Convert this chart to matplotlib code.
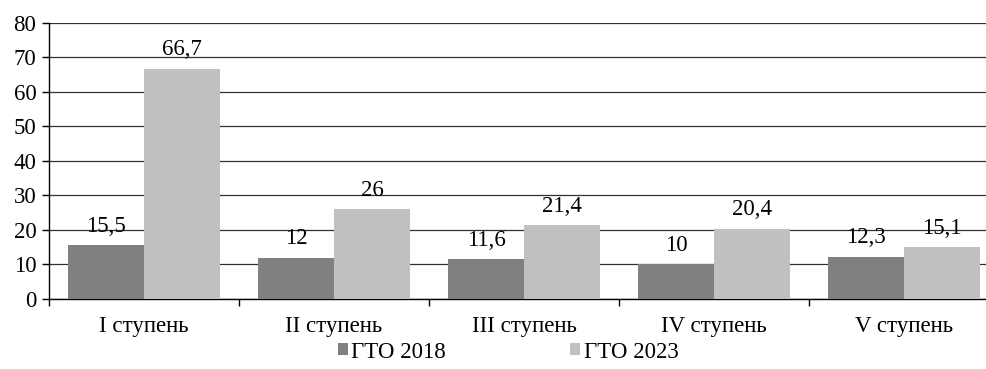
import matplotlib
matplotlib.use("Agg")
import matplotlib.pyplot as plt
import numpy as np

categories = ["I ступень", "II ступень", "III ступень", "IV ступень", "V ступень"]
gto_2018 = [15.5, 12, 11.6, 10, 12.3]
gto_2023 = [66.7, 26, 21.4, 20.4, 15.1]
labels_2018 = ["15,5", "12", "11,6", "10", "12,3"]
labels_2023 = ["66,7", "26", "21,4", "20,4", "15,1"]
series_names = ["ГТО 2018", "ГТО 2023"]

plt.rcParams["font.family"] = ["Liberation Serif", "DejaVu Serif"]
FS = 16.5
plt.rcParams["font.size"] = FS

W, H = 987, 369
fig = plt.figure(figsize=(W / 100, H / 100), dpi=100)
# axes spans from x=49 to x=999 px (right edge runs past the canvas)
left, right = 49, 999
bottom, top = 299, 22.7
ax = fig.add_axes([left / W, 1 - bottom / H, (right - left) / W, (bottom - top) / H])

x = np.arange(len(categories))
bw = 0.4
ax.bar(x - bw / 2, gto_2018, width=bw, color="#808080", label=series_names[0], zorder=3)
ax.bar(x + bw / 2, gto_2023, width=bw, color="#c0c0c0", label=series_names[1], zorder=3)

for xi, v, t in zip(x - bw / 2, gto_2018, labels_2018):
    ax.annotate(t, (xi, v), xytext=(0, 6), textcoords="offset points",
                ha="center", va="bottom", zorder=4)
for xi, v, t in zip(x + bw / 2, gto_2023, labels_2023):
    ax.annotate(t, (xi, v), xytext=(0, 6), textcoords="offset points",
                ha="center", va="bottom", zorder=4)

ax.set_xlim(-0.5, len(categories) - 0.5)
ax.set_ylim(0, 80)
ax.set_yticks(range(0, 81, 10))
ax.yaxis.grid(True, color="#303030", linewidth=0.9, zorder=0)
ax.set_axisbelow(True)

ax.set_xticks(x)
ax.set_xticklabels(categories)
ax.set_xticks(np.arange(-0.5, len(categories) + 0.5, 1), minor=True)
ax.tick_params(axis="x", which="major", length=0, pad=12)
ax.tick_params(axis="x", which="minor", length=5, width=1, color="black", direction="out")
ax.tick_params(axis="y", length=5, width=1, color="black", direction="out", pad=4)

for s in ["top", "right"]:
    ax.spines[s].set_visible(False)
ax.spines["left"].set_color("black")
ax.spines["bottom"].set_color("black")
ax.spines["left"].set_linewidth(1)
ax.spines["bottom"].set_linewidth(1)

fig.legend(loc="center", bbox_to_anchor=(508 / W, 1 - 352 / H), ncol=2, frameon=False,
           handlelength=0.45, handleheight=0.45, handletextpad=0.15,
           columnspacing=5.4, fontsize=FS)

fig.savefig("out.png", dpi=100)
